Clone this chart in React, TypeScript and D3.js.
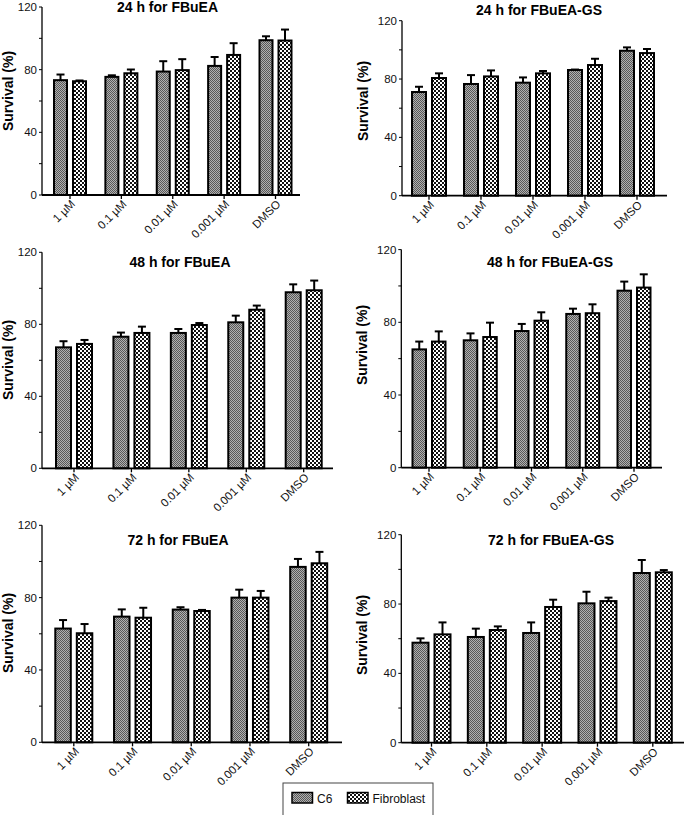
import React from "react";
import * as d3 from "d3";

const categories = ["1 µM", "0.1 µM", "0.01 µM", "0.001 µM", "DMSO"];
const seriesNames = ["C6", "Fibroblast"];
const yTicks = [0, 20, 40, 60, 80, 100, 120];
const yTickLabels = [0, 40, 80, 120];
const titles = [
  "24 h for FBuEA",
  "24 h for FBuEA-GS",
  "48 h for FBuEA",
  "48 h for FBuEA-GS",
  "72 h for FBuEA",
  "72 h for FBuEA-GS",
];

const c6_24_FBuEA = [73.3, 75.4, 78.8, 82.4, 98.8];
const c6_24_FBuEA_err = [3.6, 1.0, 6.6, 5.7, 2.5];
const fib_24_FBuEA = [72.6, 77.7, 79.7, 89.4, 98.6];
const fib_24_FBuEA_err = [0.5, 2.4, 7.0, 7.5, 7.0];

const c6_24_GS = [71.1, 76.6, 77.5, 86.2, 99.4];
const c6_24_GS_err = [3.6, 6.1, 3.6, 0.3, 2.3];
const fib_24_GS = [80.7, 81.8, 83.9, 89.6, 97.8];
const fib_24_GS_err = [3.2, 4.1, 1.6, 4.3, 2.8];

const c6_48_FBuEA = [67.2, 73.1, 75.2, 81.1, 97.8];
const c6_48_FBuEA_err = [3.4, 2.3, 2.2, 3.7, 4.4];
const fib_48_FBuEA = [69.1, 75.2, 79.6, 88.1, 98.9];
const fib_48_FBuEA_err = [2.2, 3.5, 1.1, 2.3, 5.4];

const c6_48_GS = [65.1, 70.1, 75.2, 84.6, 97.4];
const c6_48_GS_err = [4.3, 3.8, 3.9, 2.9, 5.0];
const fib_48_GS = [69.4, 71.9, 80.9, 85.0, 99.1];
const fib_48_GS_err = [5.6, 7.9, 4.6, 4.9, 7.3];

const c6_72_FBuEA = [62.9, 69.5, 73.4, 80.0, 97.0];
const c6_72_FBuEA_err = [4.7, 4.0, 1.3, 4.4, 4.4];
const fib_72_FBuEA = [60.3, 68.9, 72.6, 80.0, 99.0];
const fib_72_FBuEA_err = [5.1, 5.5, 0.6, 3.7, 6.3];

const c6_72_GS = [57.7, 61.0, 63.3, 80.4, 97.9];
const c6_72_GS_err = [2.5, 4.8, 6.1, 6.7, 7.5];
const fib_72_GS = [62.5, 65.0, 78.3, 81.7, 98.3];
const fib_72_GS_err = [6.9, 2.1, 4.2, 2.0, 1.3];

const panelData = [
  [c6_24_FBuEA, c6_24_FBuEA_err, fib_24_FBuEA, fib_24_FBuEA_err],
  [c6_24_GS, c6_24_GS_err, fib_24_GS, fib_24_GS_err],
  [c6_48_FBuEA, c6_48_FBuEA_err, fib_48_FBuEA, fib_48_FBuEA_err],
  [c6_48_GS, c6_48_GS_err, fib_48_GS, fib_48_GS_err],
  [c6_72_FBuEA, c6_72_FBuEA_err, fib_72_FBuEA, fib_72_FBuEA_err],
  [c6_72_GS, c6_72_GS_err, fib_72_GS, fib_72_GS_err],
];

// layout (positions only)
const layouts = [
  { ax: 42, y0: 195, yTop: 7, xEnd: 300, g1: 70, g5: 275.5, bw: 13, tx: 167.5, ty: 12, lx: 8.5, ly: 91 },
  { ax: 402, y0: 195.7, yTop: 20.7, xEnd: 667, g1: 429, g5: 637, bw: 14, tx: 539, ty: 15, lx: 363.5, ly: 101 },
  { ax: 42, y0: 468.3, yTop: 252.3, xEnd: 333, g1: 74, g5: 303.7, bw: 15, tx: 180, ty: 267, lx: 8.5, ly: 360 },
  { ax: 401.3, y0: 467.7, yTop: 249.6, xEnd: 662, g1: 429, g5: 634, bw: 13.5, tx: 550, ty: 267, lx: 362, ly: 345 },
  { ax: 42, y0: 742.3, yTop: 525.3, xEnd: 342, g1: 73.8, g5: 308.7, bw: 15.5, tx: 178, ty: 545, lx: 8.5, ly: 633 },
  { ax: 401.3, y0: 742.7, yTop: 534.7, xEnd: 684, g1: 431.5, g5: 652.8, bw: 16, tx: 551, ty: 545, lx: 362, ly: 635 },
];

const FONT = "'Liberation Sans', Arial, sans-serif";
const fills = ["url(#patC6)", "url(#patFib)"];

function Panel({ idx }: { idx: number }) {
  const L = layouts[idx];
  const [c6, c6e, fib, fibe] = panelData[idx];
  const step = (L.g5 - L.g1) / (categories.length - 1);
  const x = d3
    .scaleBand<string>()
    .domain(categories)
    .range([L.g1 - step / 2, L.g5 + step / 2])
    .padding(0);
  const y = d3.scaleLinear().domain([0, 120]).range([L.y0, L.yTop]);
  const gap = 6;
  const series = [
    { vals: c6, errs: c6e, off: -gap / 2 - L.bw },
    { vals: fib, errs: fibe, off: gap / 2 },
  ];
  return (
    <g>
      {series.map((s, si) =>
        categories.map((c, i) => {
          const cx = (x(c) as number) + x.bandwidth() / 2;
          const bx = cx + s.off;
          const top = y(s.vals[i]);
          const et = y(s.vals[i] + s.errs[i]);
          const mid = bx + L.bw / 2;
          return (
            <g key={`${si}-${i}`}>
              <line x1={mid} x2={mid} y1={top} y2={et} stroke="#000" strokeWidth={2} />
              <line x1={mid - 4} x2={mid + 4} y1={et} y2={et} stroke="#000" strokeWidth={2} />
              <rect x={bx} y={top} width={L.bw} height={L.y0 - top} fill={fills[si]} stroke="#000" strokeWidth={2} />
            </g>
          );
        })
      )}
      {/* y axis */}
      <line x1={L.ax} x2={L.ax} y1={L.y0} y2={L.yTop} stroke="#000" strokeWidth={1.3} />
      {yTicks.map((t) => (
        <line key={t} x1={L.ax - 3} x2={L.ax} y1={y(t)} y2={y(t)} stroke="#000" strokeWidth={1} />
      ))}
      {yTickLabels.map((t) => (
        <text key={t} x={L.ax - 5} y={y(t)} dy="0.35em" textAnchor="end" fontSize={11.5} fontFamily={FONT} fill="#111">
          {t}
        </text>
      ))}
      {/* x axis */}
      <line x1={L.ax} x2={L.xEnd} y1={L.y0} y2={L.y0} stroke="#000" strokeWidth={1.8} />
      {categories.map((c) => {
        const cx = (x(c) as number) + x.bandwidth() / 2;
        return (
          <g key={c}>
            <line x1={cx} x2={cx} y1={L.y0} y2={L.y0 + 4} stroke="#000" strokeWidth={1.3} />
            <text
              transform={`translate(${cx + 3},${L.y0 + 7}) rotate(-45)`}
              textAnchor="end"
              dy="0.35em"
              fontSize={11.5}
              fontFamily={FONT}
              fill="#111"
            >
              {c}
            </text>
          </g>
        );
      })}
      <text x={L.tx} y={L.ty} textAnchor="middle" fontSize={14} fontWeight="bold" fontFamily={FONT} fill="#000">
        {titles[idx]}
      </text>
      <text
        transform={`translate(${L.lx},${L.ly}) rotate(-90)`}
        textAnchor="middle"
        dy="0.35em"
        fontSize={14}
        fontWeight="bold"
        fontFamily={FONT}
        fill="#000"
      >
        Survival (%)
      </text>
    </g>
  );
}

export default function App() {
  return (
    <svg
      width={684}
      height={815}
      style={{ position: "absolute", left: 0, top: 0, background: "#fff" }}
    >
      <defs>
        <pattern id="patC6" width={2} height={2} patternUnits="userSpaceOnUse">
          <rect width={2} height={2} fill="#b0b0b0" />
          <rect x={0} y={0} width={1} height={1} fill="#585858" />
          <rect x={1} y={1} width={1} height={1} fill="#585858" />
        </pattern>
        <pattern id="patFib" width={4} height={4} patternUnits="userSpaceOnUse">
          <rect width={4} height={4} fill="#fff" />
          <rect x={0} y={0} width={2} height={2} fill="#111" />
          <rect x={2} y={2} width={2} height={2} fill="#111" />
        </pattern>
      </defs>
      <rect width={684} height={815} fill="#fff" />
      {layouts.map((_, i) => (
        <Panel key={i} idx={i} />
      ))}
      {/* legend */}
      <rect x={283} y={783} width={150} height={40} fill="#fff" stroke="#444" strokeWidth={1} />
      {seriesNames.map((s, i) => {
        const sx = [292, 347.5][i];
        return (
          <g key={s}>
            <rect x={sx} y={792.5} width={20.5} height={10.5} fill={fills[i]} stroke="#000" strokeWidth={1.5} />
            <text x={sx + 25} y={802.5} fontSize={12} fontFamily={FONT} fill="#111">
              {s}
            </text>
          </g>
        );
      })}
    </svg>
  );
}
